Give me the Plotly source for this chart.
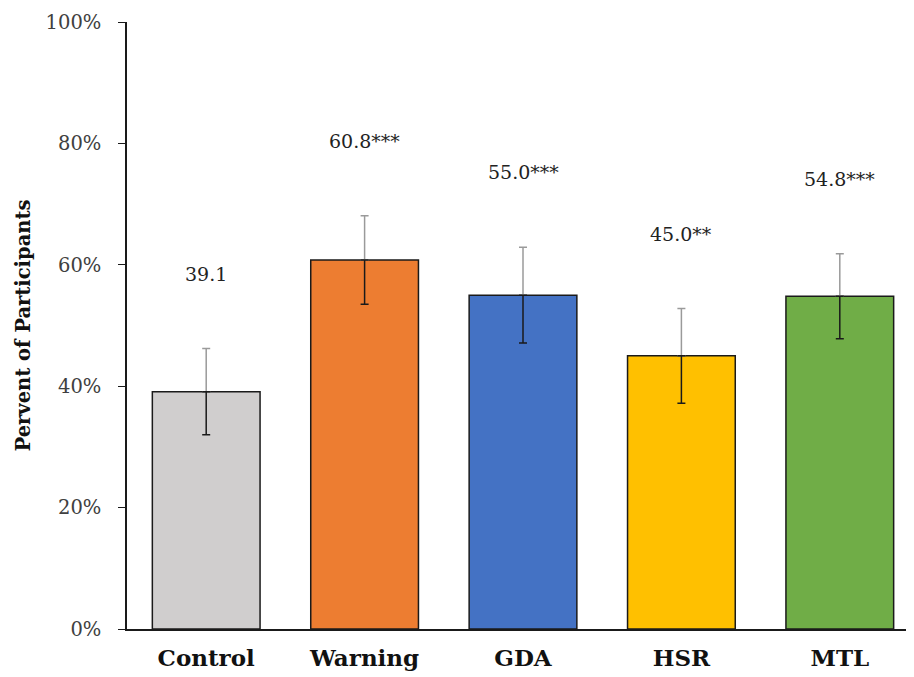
import plotly.graph_objects as go

categories = ["Control", "Warning", "GDA", "HSR", "MTL"]
values = [39.1, 60.8, 55.0, 45.0, 54.8]
errors = [7.1, 7.3, 7.9, 7.8, 7.0]
stars = ["", "***", "***", "**", "***"]
colors = ["#D0CECE", "#ED7D31", "#4472C4", "#FFC000", "#70AD47"]
y_ticks = [0, 20, 40, 60, 80, 100]
y_tick_labels = ["0%", "20%", "40%", "60%", "80%", "100%"]

FONT = "DejaVu Serif"

fig = go.Figure()
# bars with upper (grey) error part
fig.add_trace(go.Bar(
    x=categories, y=values, width=0.68,
    marker=dict(color=colors, line=dict(color="#1a1a1a", width=1.5)),
    error_y=dict(type="data", symmetric=False, array=errors,
                 arrayminus=[0] * len(errors), color="#9a9a9a",
                 thickness=1.5, width=4),
    showlegend=False, hoverinfo="skip",
))
# lower (dark) error part, drawn over bars
fig.add_trace(go.Scatter(
    x=categories, y=values, mode="markers",
    marker=dict(size=1, color="rgba(0,0,0,0)"),
    error_y=dict(type="data", symmetric=False, array=[0] * len(errors),
                 arrayminus=errors, color="#1a1a1a", thickness=1.5, width=4),
    showlegend=False, hoverinfo="skip",
))

for c, v, e, s in zip(categories, values, errors, stars):
    fig.add_annotation(x=c, y=v + e, text=f"{v:.1f}{s}", showarrow=False,
                       yanchor="middle", yshift=75,
                       font=dict(family=FONT, size=19, color="#222"))

fig.update_layout(
    width=914, height=677,
    margin=dict(l=119, r=3, t=14, b=56, autoexpand=False),
    paper_bgcolor="white", plot_bgcolor="white",
    font=dict(family=FONT, color="#222"),
)
fig.update_xaxes(
    showline=True, linecolor="#1a1a1a", linewidth=1.5,
    ticks="", tickfont=dict(family=FONT, size=23, color="#111"),
    tickvals=categories, ticktext=[f"<b>{c}</b>" for c in categories],
    range=[-0.5, 4.5], automargin=False, ticklabelstandoff=8,
)
fig.update_yaxes(
    range=[0, 100], tickvals=y_ticks, ticktext=y_tick_labels,
    showline=True, linecolor="#1a1a1a", linewidth=1.5,
    ticks="outside", ticklen=7, tickcolor="#1a1a1a", ticklabelstandoff=13,
    showgrid=False, zeroline=False, automargin=False,
    tickfont=dict(family=FONT, size=19.5, color="#404040"),
    title=dict(text="<b>Pervent of Participants</b>",
               font=dict(family=FONT, size=19.5, color="#111"), standoff=10),
)

fig.write_html("out.html")
